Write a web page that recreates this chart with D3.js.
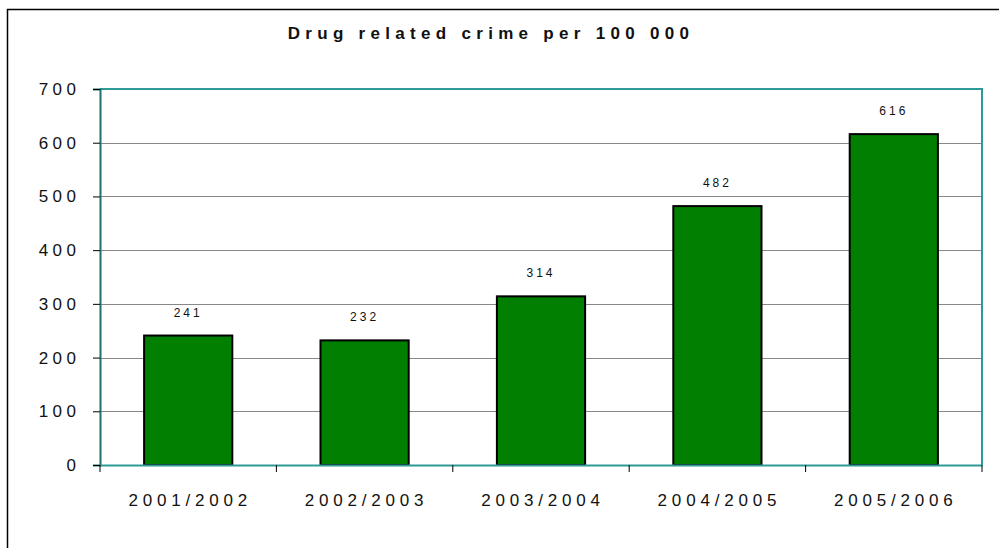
<!DOCTYPE html>
<html>
<head>
<meta charset="utf-8">
<script src="https://cdn.jsdelivr.net/npm/d3@7"></script>
<style>
  body { margin: 0; background: #fff; }
  text { font-family: "Liberation Sans Narrow", "Liberation Sans", Arial, sans-serif; fill: #111; }
</style>
</head>
<body>
<div id="chart"></div>
<script>
// --- data ---
const years = ["2001/2002", "2002/2003", "2003/2004", "2004/2005", "2005/2006"];
const crimeRate = [241, 232, 314, 482, 616];
const yTicks = [0, 100, 200, 300, 400, 500, 600, 700];

const width = 999, height = 548;
const plot = { left: 100, top: 89, right: 982, bottom: 465 };

const svg = d3.select("#chart").append("svg")
    .attr("width", width)
    .attr("height", height);

// outer chart frame (only top & left visible)
svg.append("path")
    .attr("d", `M7.5,${height} V9.5 H${width}`)
    .attr("fill", "none")
    .attr("stroke", "#000")
    .attr("stroke-width", 1.5);

const x = d3.scaleBand()
    .domain(years)
    .range([plot.left, plot.right])
    .paddingInner(0.5)
    .paddingOuter(0.25);

const y = d3.scaleLinear()
    .domain([0, 700])
    .range([plot.bottom, plot.top]);

// gridlines
svg.append("g")
    .selectAll("line")
    .data(yTicks.filter(d => d > 0 && d < 700))
    .join("line")
    .attr("x1", plot.left)
    .attr("x2", plot.right)
    .attr("y1", d => Math.round(y(d)) + 0.5)
    .attr("y2", d => Math.round(y(d)) + 0.5)
    .attr("stroke", "#888")
    .attr("stroke-width", 1);

// bars
svg.append("g")
    .selectAll("rect")
    .data(crimeRate)
    .join("rect")
    .attr("x", (d, i) => x(years[i]))
    .attr("width", x.bandwidth())
    .attr("y", d => y(d))
    .attr("height", d => y(0) - y(d))
    .attr("fill", "#007f00")
    .attr("stroke", "#000")
    .attr("stroke-width", 2);

// value labels
svg.append("g")
    .selectAll("text")
    .data(crimeRate)
    .join("text")
    .attr("x", (d, i) => x(years[i]) + x.bandwidth() / 2)
    .attr("y", d => y(d) - 19)
    .attr("text-anchor", "middle")
    .style("font-size", "12px")
    .style("letter-spacing", "3px")
    .text(d => d);

// plot frame top/right (teal)
svg.append("path")
    .attr("d", `M${plot.left},${plot.top} H${plot.right} V${plot.bottom}`)
    .attr("fill", "none")
    .attr("stroke", "#2e9a96")
    .attr("stroke-width", 2);

// y axis
const yAxis = svg.append("g")
    .attr("transform", `translate(${plot.left},0)`)
    .call(d3.axisLeft(y).tickValues(yTicks).tickSize(7).tickPadding(17));
yAxis.select(".domain").attr("stroke", "#1f6f6c").attr("stroke-width", 2);
yAxis.selectAll(".tick line").attr("stroke", "#000");
yAxis.selectAll("text")
    .style("font-size", "17px")
    .style("letter-spacing", "4.5px")
    .attr("dx", "4.5px");

// x axis
const xAxis = svg.append("g")
    .attr("transform", `translate(0,${plot.bottom})`)
    .call(d3.axisBottom(x).tickSize(0).tickPadding(29));
xAxis.select(".domain").attr("stroke", "#2e9a96").attr("stroke-width", 2);
xAxis.selectAll("text")
    .style("font-size", "17px")
    .style("letter-spacing", "4.8px")
    .attr("dx", "2px");

// category boundary ticks
const step = x.step();
svg.append("g")
    .selectAll("line")
    .data(d3.range(years.length + 1))
    .join("line")
    .attr("x1", i => plot.left + i * step)
    .attr("x2", i => plot.left + i * step)
    .attr("y1", plot.bottom)
    .attr("y2", plot.bottom + 7)
    .attr("stroke", "#000")
    .attr("stroke-width", 1);

// title
svg.append("text")
    .attr("x", 491)
    .attr("y", 39)
    .attr("text-anchor", "middle")
    .style("font-size", "17px")
    .style("font-weight", "bold")
    .style("letter-spacing", "5.3px")
    .text("Drug related crime per 100 000");
</script>
</body>
</html>
